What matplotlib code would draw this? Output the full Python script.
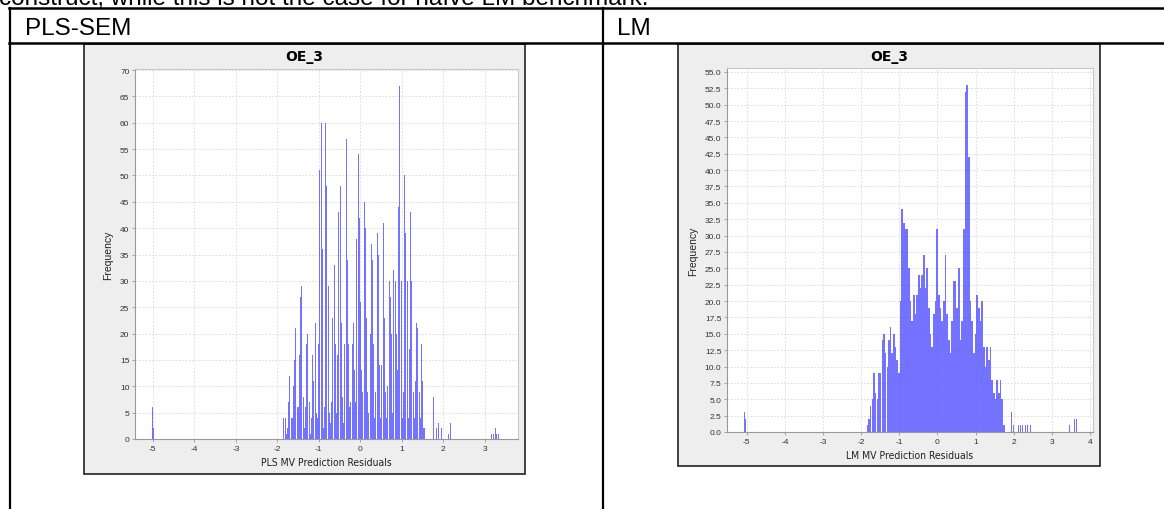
import numpy as np
import matplotlib.pyplot as plt
from matplotlib.patches import Rectangle
from matplotlib.lines import Line2D

W, H = 1164, 510

# ---- data ----
# PLS-SEM residual histogram: dense block of bins starting at -1.84
pls_start, pls_bw = -1.84, 0.0288
pls_counts = [4, 4, 1, 2, 7, 12, 4, 4, 10, 15, 21, 6, 6, 16, 27, 29, 8, 2, 6, 18,
              20, 7, 1, 4, 16, 11, 22, 5, 4, 18, 51, 60, 36, 2, 6, 60, 48, 29, 5, 3,
              7, 23, 33, 18, 5, 16, 43, 48, 22, 8, 3, 18, 57, 34, 18, 6, 7, 18, 22, 13,
              7, 38, 54, 42, 26, 13, 9, 45, 40, 23, 9, 5, 20, 37, 34, 18, 4, 9, 39, 35,
              14, 4, 14, 41, 23, 9, 4, 10, 30, 27, 20, 5, 32, 30, 20, 13, 44, 67, 30, 4,
              9, 50, 39, 30, 4, 17, 43, 30, 9, 4, 11, 22, 21, 9, 4, 18, 11, 2, 2]
# isolated bars outside the block
pls_tail_x = [-5.005, -4.985, 1.77, 1.80, 1.83, 1.88, 1.92, 1.96, 2.09, 2.13, 2.17, 2.33,
              3.16, 3.22, 3.25, 3.29, 3.33]
pls_tail_n = [6, 2, 8, 6, 2, 3, 1, 2, 2, 1, 3, 3, 1, 1, 2, 1, 1]

# LM residual histogram: dense block starting at -1.84
lm_start, lm_bw = -1.84, 0.0437
lm_counts = [1, 2, 4, 5, 9, 6, 5, 9, 9, 14, 15, 12, 10, 14, 16, 12, 15, 13, 11, 9,
             20, 34, 32, 31, 31, 25, 20, 17, 21, 18, 21, 24, 22, 24, 27, 22, 25, 19, 15, 13,
             18, 20, 31, 21, 19, 17, 20, 27, 18, 14, 12, 17, 23, 23, 19, 25, 14, 17, 31, 52,
             53, 42, 20, 17, 12, 15, 21, 19, 17, 20, 13, 10, 13, 11, 13, 8, 6, 5, 8, 6,
             8, 5, 1]
lm_tail_x = [-5.07, -5.04, 1.94, 1.99, 2.06, 2.12, 2.18, 2.24, 2.30, 2.37, 2.45,
             3.40, 3.46, 3.53, 3.59, 3.65]
lm_tail_n = [3, 2, 3, 1, 1, 1, 1, 1, 1, 1, 1, 1, 1, 2, 2, 2]

pls_ticks_y = list(range(0, 71, 5))
lm_ticks_y = list(np.arange(0, 55.1, 2.5))


def box(x0, y0, x1, y1):
    # pixel box (top-left origin) -> figure fraction rect
    return [x0 / W, 1 - y1 / H, (x1 - x0) / W, (y1 - y0) / H]


def hline(y, x0, x1, lw=1.8):
    fig.add_artist(Line2D([x0 / W, x1 / W], [1 - y / H, 1 - y / H], color='black', lw=lw))


def vline(x, y0, y1, lw=1.6):
    fig.add_artist(Line2D([x / W, x / W], [1 - y0 / H, 1 - y1 / H], color='black', lw=lw))


plt.rcParams['font.family'] = ['Liberation Sans', 'DejaVu Sans']
fig = plt.figure(figsize=(W / 100, H / 100), dpi=100)

# text line cut at the top of the page (as in the reference)
fig.text(-1 / W, 1 - 5.5 / H, 'construct, while this is not the case for naïve LM benchmark.',
         fontsize=17.5, va='baseline', ha='left')

# table grid
hline(9, 9, W + 5)
hline(44, 9, W + 5)
vline(10, 9, H + 5)
vline(603, 9, H + 5)
fig.text(25 / W, 1 - 35 / H, 'PLS-SEM', fontsize=17.5, va='baseline')
fig.text(617 / W, 1 - 35 / H, 'LM', fontsize=17.5, va='baseline')


def panel(frame, plot, start, bw, counts, tx, tn, fill, xlim, ylim, xticks, yticks, yfmt,
          xlabel, ylab_x):
    fx0, fy0, fx1, fy1 = frame
    fig.add_artist(Rectangle((fx0 / W, 1 - fy1 / H), (fx1 - fx0) / W, (fy1 - fy0) / H,
                             transform=fig.transFigure, facecolor='#eeeeee',
                             edgecolor='#222222', lw=1.2, zorder=0))
    ax = fig.add_axes(box(*plot))
    ax.set_facecolor('white')
    xs = start + bw * np.arange(len(counts))
    ax.bar(xs, counts, width=bw * fill, color='#5050ff', alpha=0.8, linewidth=0, zorder=3)
    ax.bar(tx, tn, width=0.022, color='#5050ff', alpha=0.8, linewidth=0, zorder=3)
    ax.set_xlim(*xlim)
    ax.set_ylim(*ylim)
    ax.set_xticks(xticks)
    ax.set_yticks(yticks)
    ax.set_xticklabels([str(t) for t in xticks])
    ax.set_yticklabels([yfmt(t) for t in yticks])
    ax.grid(True, ls=(0, (2, 2)), color='#d8d8d8', lw=0.6, zorder=0)
    ax.set_axisbelow(True)
    for s in ax.spines.values():
        s.set_color('#c8c8c8')
        s.set_linewidth(0.8)
    ax.spines['left'].set_color('#999999')
    ax.spines['bottom'].set_color('#999999')
    ax.tick_params(labelsize=6, colors='#999999', labelcolor='#333333', length=2, width=0.6, pad=2)
    ax.set_xlabel(xlabel, fontsize=7.5, color='#222222', fontstretch='condensed', labelpad=4,
                  family=['DejaVu Sans'])
    fig.text(ylab_x / W, 1 - (plot[1] + plot[3]) / 2 / H, 'Frequency', rotation=90,
             fontsize=7.5, color='#222222', ha='center', va='center')
    fig.text((fx0 + fx1) / 2 / W, 1 - (fy0 + 12) / H, 'OE_3', fontsize=10, weight='bold',
             ha='center', va='center', family=['DejaVu Sans'])
    return ax


panel((84, 45, 525, 475), (135, 70, 518, 440), pls_start, pls_bw, pls_counts,
      pls_tail_x, pls_tail_n, 0.85, (-5.43, 3.8), (0, 70.2),
      [-5, -4, -3, -2, -1, 0, 1, 2, 3], pls_ticks_y, lambda t: str(int(t)),
      'PLS MV Prediction Residuals', 108)
panel((678, 45, 1100, 467), (727, 69, 1093, 433), lm_start, lm_bw, lm_counts,
      lm_tail_x, lm_tail_n, 0.95, (-5.52, 4.08), (0, 55.6),
      [-5, -4, -3, -2, -1, 0, 1, 2, 3, 4], lm_ticks_y, lambda t: '%.1f' % t,
      'LM MV Prediction Residuals', 693)

fig.savefig('out.png', dpi=100)
